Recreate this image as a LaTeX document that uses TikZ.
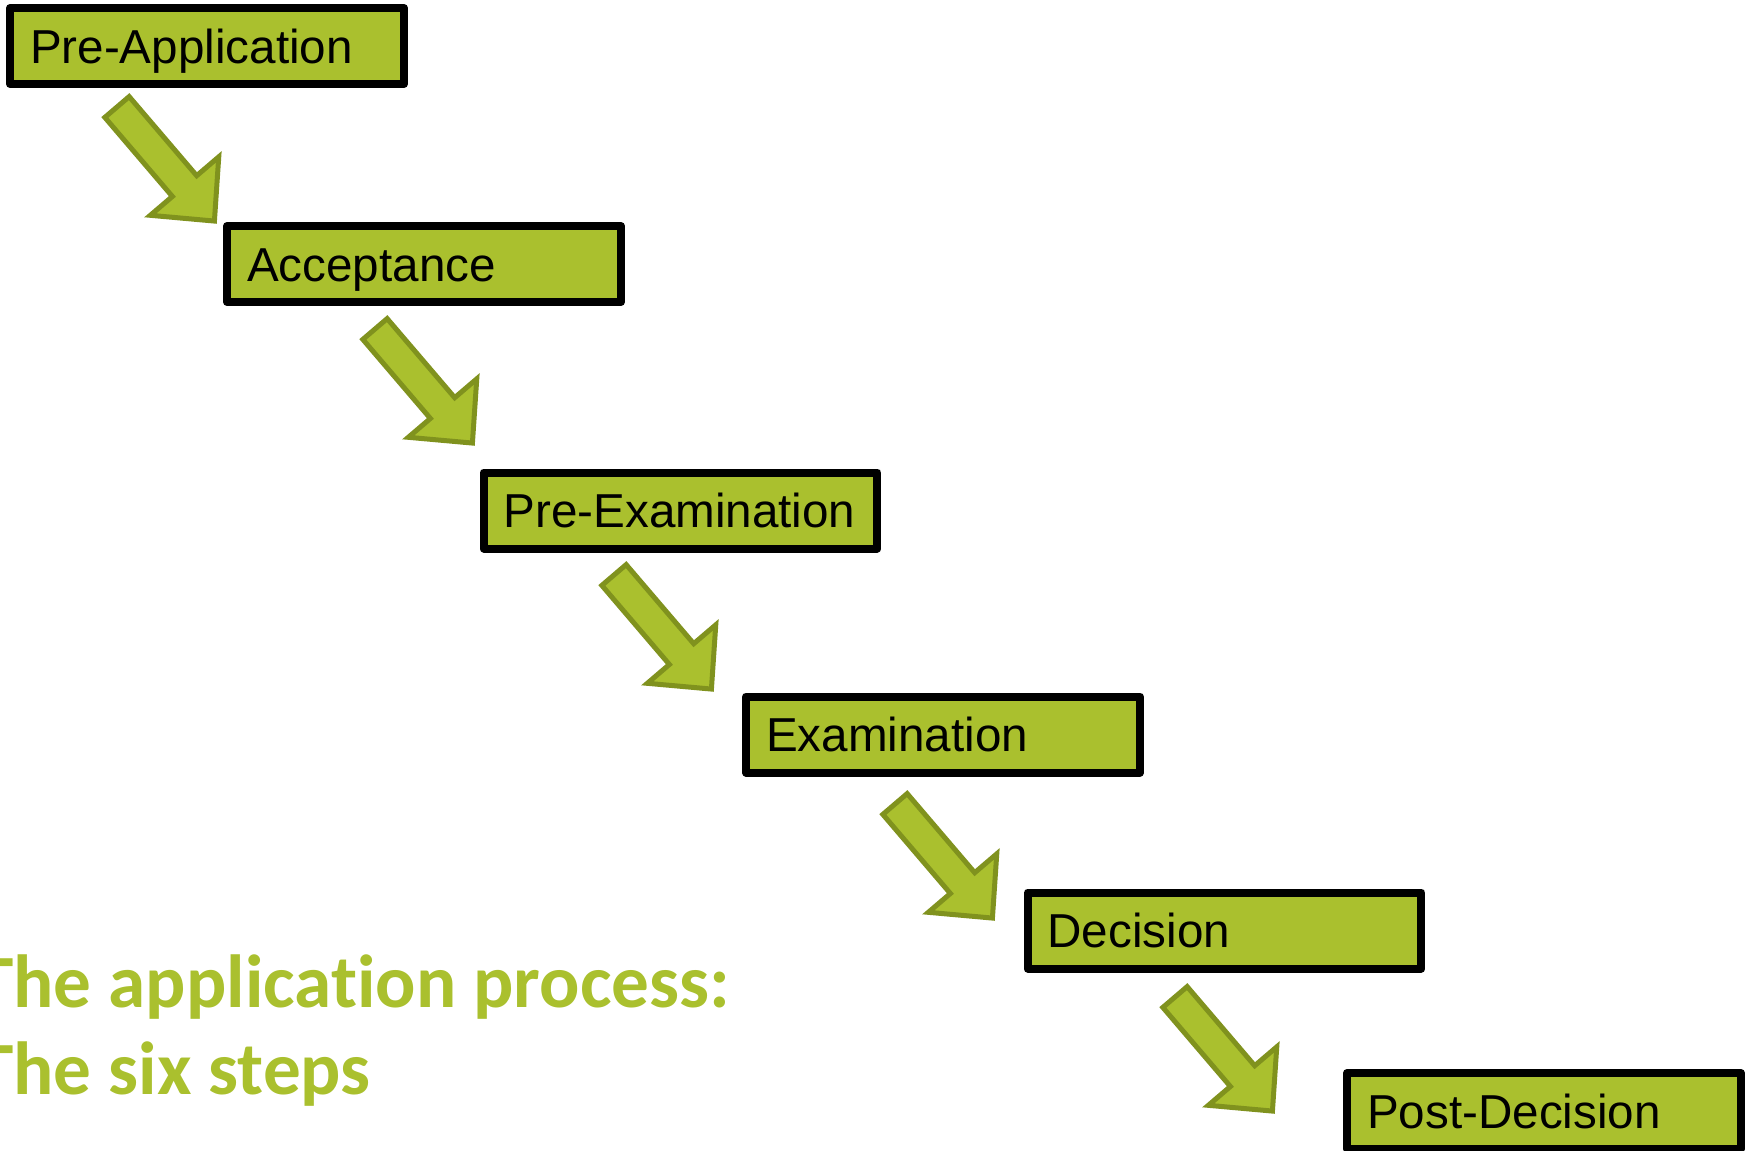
\documentclass[tikz,border=0pt]{standalone}
\usepackage{fontspec}
\setmainfont{Liberation Sans}
\newfontfamily\titlefont[Ligatures=NoCommon]{Carlito}
\usetikzlibrary{positioning}
\definecolor{stepgreen}{RGB}{170,192,46}
\definecolor{arrowolive}{RGB}{128,146,30}
\tikzset{
  stepbox/.style={
    rectangle,
    fill=stepgreen,
    draw=black, line width=0.16cm, line join=round,
    minimum width=7.88cm,
    minimum height=1.52cm,
    text width=7.08cm,
    inner xsep=0.4cm,
    text height=0.68cm, text depth=0pt,
    align=left,
    font=\fontsize{27.1}{30}\selectfont},
  titletext/.style={
    anchor=base west, inner sep=0pt,
    text=stepgreen,
    font=\titlefont\bfseries\fontsize{42.8}{50}\selectfont},
  steparrow/.pic={
    \draw[fill=stepgreen, draw=arrowolive, line width=0.1cm]
      (0,16) -- (104,16) -- (104,45) -- (150,0) -- (104,-45) -- (104,-16) -- (0,-16) -- cycle;
  },
}

\begin{document}
\begin{tikzpicture}[x=0.02cm, y=-0.02cm]
    \useasboundingbox (0,0) rectangle (1750,1150);
    \clip (0,0) rectangle (1750,1150);

    % arrows
    \pic[rotate=-49.5] at (117,107) {steparrow};
    \pic[rotate=-49.5] at (375,329) {steparrow};
    \pic[rotate=-49.5] at (614,575) {steparrow};
    \pic[rotate=-49.5] at (895,804) {steparrow};
    \pic[rotate=-49.5] at (1175,997) {steparrow};

    % steps
    \node[stepbox] (preapp)  at (207,46)     {Pre-Application};
    \node[stepbox] (accept)  at (424,264)    {Acceptance};
    \node[stepbox] (preexam) at (680.5,510.5) {Pre-Examination};
    \node[stepbox] (exam)    at (943,734.5)  {Examination};
    \node[stepbox] (decide)  at (1224.5,930.5) {Decision};
    \node[stepbox] (postdec) at (1544,1111)  {Post-Decision};

    % title
    \node[titletext] (titleA) at (-24,1007) {The application process:};
    \node[titletext] (titleB) at (-24,1094) {The six steps};

\end{tikzpicture}
\end{document}
